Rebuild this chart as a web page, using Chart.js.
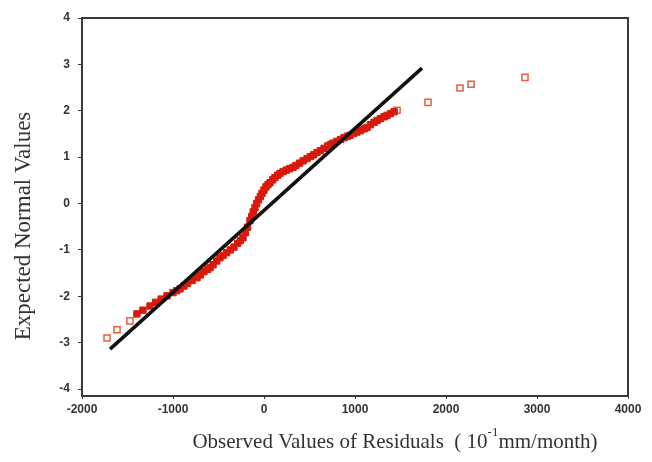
<!DOCTYPE html>
<html>
<head>
<meta charset="utf-8">
<script src="https://cdn.jsdelivr.net/npm/chart.js@4.4.0/dist/chart.umd.min.js"></script>
<style>
  html, body { margin: 0; padding: 0; background: #fff; }
</style>
</head>
<body>
<canvas id="qq" width="652" height="462"></canvas>
<script>
// axis ticks
const xTicks = [-2000, -1000, 0, 1000, 2000, 3000, 4000];
const yTicks = [-4, -3, -2, -1, 0, 1, 2, 3, 4];

// dense part of the residuals (observed, expected normal)
const bodyX = [-1396, -1330, -1253, -1190, -1130, -1066, -1000, -960, -923, -880,
  -840, -790, -736, -700, -660, -620, -593, -560, -520, -484,
  -450, -410, -370, -330, -290, -260, -231, -205, -180, -154,
  -135, -118, -99, -80, -60, -40, -22, 0, 22, 44,
  66, 95, 120, 150, 176, 210, 245, 280, 319, 350,
  390, 430, 473, 510, 545, 582, 620, 660, 700, 730,
  758, 800, 840, 880, 915, 945, 985, 1020, 1060, 1100,
  1132, 1170, 1210, 1242, 1280, 1320, 1352, 1390, 1430];
const bodyY = [-2.38, -2.30, -2.21, -2.13, -2.06, -1.99, -1.92, -1.88, -1.84, -1.78,
  -1.72, -1.66, -1.60, -1.54, -1.47, -1.42, -1.38, -1.32, -1.24, -1.17,
  -1.12, -1.06, -1.00, -0.94, -0.86, -0.80, -0.74, -0.63, -0.51, -0.37,
  -0.28, -0.18, -0.09, 0.00, 0.08, 0.15, 0.22, 0.29, 0.36, 0.41,
  0.45, 0.51, 0.56, 0.61, 0.65, 0.69, 0.72, 0.75, 0.78, 0.82,
  0.87, 0.92, 0.97, 1.01, 1.05, 1.10, 1.14, 1.19, 1.24, 1.27,
  1.30, 1.34, 1.38, 1.42, 1.45, 1.47, 1.51, 1.54, 1.57, 1.61,
  1.64, 1.70, 1.75, 1.79, 1.83, 1.87, 1.90, 1.94, 1.98];

// sparse tail points
const tailX = [-1725, -1615, -1473, 1462, 1802, 2154, 2275, 2868];
const tailY = [-2.90, -2.72, -2.53, 2.01, 2.18, 2.49, 2.57, 2.72];

// reference line
const fitX = [-1692, 1736];
const fitY = [-3.14, 2.92];

function toPoints(xs, ys) {
  return xs.map((x, i) => ({ x: x, y: ys[i] }));
}

const textColor = '#333';
const serif = '"Liberation Serif", "Times New Roman", serif';

// box around the plot plus the two axis titles
const framePlugin = {
  id: 'frame',
  beforeDraw(chart) {
    const ctx = chart.ctx;
    ctx.save();
    ctx.fillStyle = '#fff';
    ctx.fillRect(0, 0, chart.width, chart.height);
    ctx.restore();
  },
  afterDraw(chart) {
    const { ctx, chartArea: a } = chart;
    ctx.save();
    ctx.strokeStyle = '#3a3a3a';
    ctx.lineWidth = 2;
    ctx.strokeRect(a.left, a.top, a.right - a.left, a.bottom - a.top);

    ctx.fillStyle = textColor;
    ctx.textBaseline = 'alphabetic';

    // x title with superscript
    const part1 = 'Observed Values of Residuals  ( 10';
    const sup = '-1';
    const part2 = 'mm/month)';
    ctx.font = '21px ' + serif;
    const w1 = ctx.measureText(part1).width;
    const w3 = ctx.measureText(part2).width;
    ctx.font = '13px ' + serif;
    const w2 = ctx.measureText(sup).width;
    let x = 395 - (w1 + w2 + w3) / 2;
    const base = 448;
    ctx.font = '21px ' + serif;
    ctx.fillText(part1, x, base);
    x += w1;
    ctx.font = '13px ' + serif;
    ctx.fillText(sup, x, base - 12);
    x += w2;
    ctx.font = '21px ' + serif;
    ctx.fillText(part2, x, base);

    // y title
    ctx.translate(30, 226);
    ctx.rotate(-Math.PI / 2);
    ctx.textAlign = 'center';
    ctx.font = '23px ' + serif;
    ctx.fillText('Expected Normal Values', 0, 0);
    ctx.restore();
  }
};

const tickFont = { family: '"Liberation Sans", Arial, sans-serif', size: 12, weight: 'bold' };

new Chart(document.getElementById('qq'), {
  type: 'scatter',
  data: {
    datasets: [
      {
        data: toPoints(fitX, fitY),
        showLine: true,
        borderColor: '#111',
        borderWidth: 3.5,
        pointRadius: 0
      },
      {
        data: toPoints(bodyX, bodyY),
        pointStyle: 'rect',
        pointRadius: 4.5,
        backgroundColor: '#d81a0c',
        borderColor: '#d81a0c',
        borderWidth: 1
      },
      {
        data: toPoints(tailX, tailY),
        pointStyle: 'rect',
        pointRadius: 4.3,
        backgroundColor: 'rgba(255,255,255,0.9)',
        borderColor: '#e2603a',
        borderWidth: 1.5
      }
    ]
  },
  options: {
    responsive: false,
    devicePixelRatio: 1,
    animation: false,
    layout: { padding: { top: 18, right: 24, left: 0, bottom: 0 } },
    plugins: {
      legend: { display: false },
      tooltip: { enabled: false }
    },
    scales: {
      x: {
        type: 'linear',
        min: -2000,
        max: 4000,
        afterBuildTicks: s => { s.ticks = xTicks.map(v => ({ value: v })); },
        afterFit: s => { s.height = 66; },
        border: { display: false },
        grid: { drawOnChartArea: false, tickLength: 3, color: '#333' },
        ticks: { color: textColor, font: tickFont, padding: 3, callback: v => String(v) }
      },
      y: {
        type: 'linear',
        min: -4.15,
        max: 4,
        afterBuildTicks: s => { s.ticks = yTicks.map(v => ({ value: v })); },
        afterFit: s => { s.width = 82; },
        border: { display: false },
        grid: { drawOnChartArea: false, tickLength: 4, color: '#333' },
        ticks: { color: textColor, font: tickFont, padding: 8, callback: v => String(v) }
      }
    }
  },
  plugins: [framePlugin]
});
</script>
</body>
</html>
